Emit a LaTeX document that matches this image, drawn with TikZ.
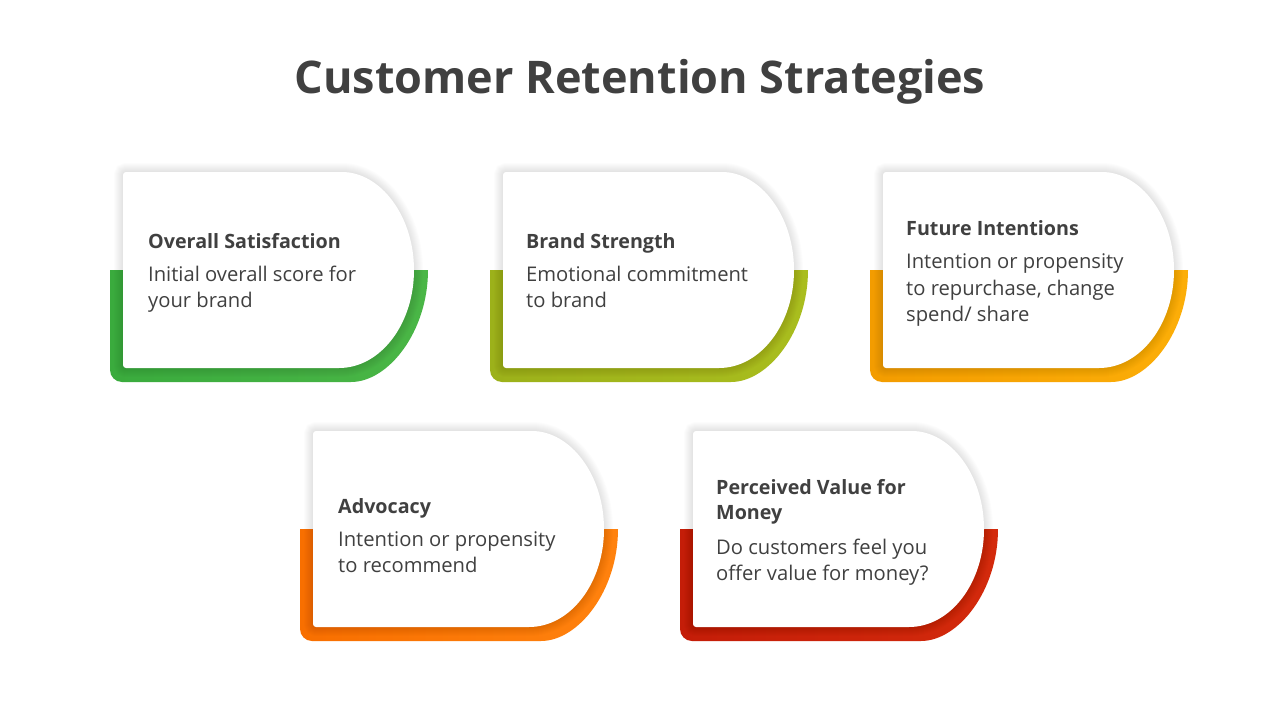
\documentclass[tikz,border=0pt]{standalone}
\usepackage{fontspec}
\setmainfont{Open Sans}
\definecolor{txt}{HTML}{404040}
\definecolor{gL}{HTML}{3AAB3D}\definecolor{gR}{HTML}{4AB646}
\definecolor{oL}{HTML}{9CB11A}\definecolor{oR}{HTML}{A9BD1E}
\definecolor{aL}{HTML}{F39C00}\definecolor{aR}{HTML}{FCAE08}
\definecolor{rL}{HTML}{F86F00}\definecolor{rR}{HTML}{FF820E}
\definecolor{dL}{HTML}{C41D08}\definecolor{dR}{HTML}{D32A0C}
\newcommand\whitepath{(0,98) [rounded corners=3] -- (0,0) -- (216,0) [sharp corners] .. controls (257.4,0) and (291,43.9) .. (291,98) .. controls (291,152.1) and (257.4,196) .. (216,196) [rounded corners=3] -- (0,196) -- cycle}
\newcommand\crd[3]{%
\begin{scope}[shift={(#1,#2)}]
 \shade[left color=#3L, right color=#3R] (-13,98) [rounded corners=12] -- (-13,210) -- (216,210) [sharp corners] .. controls (265.2,210) and (305,159.9) .. (305,98) -- cycle;
 \foreach \w in {2,4,...,18} \draw[black, opacity=0.012, line width=\w pt] \whitepath;
 \fill[white] \whitepath;
\end{scope}}
\tikzset{
 ttl/.style={font=\fontsize{45}{50}\selectfont\bfseries, text=txt, inner sep=0},
 hd/.style={font=\fontsize{19.7}{24}\selectfont\bfseries, text=txt, inner sep=0, anchor=base west},
 bd/.style={font=\fontsize{20.2}{24}\selectfont, text=txt, inner sep=0, anchor=base west}
}
\begin{document}
\begin{tikzpicture}[x=1pt,y=-1pt]
\useasboundingbox (0,0) rectangle (1280,720);
\fill[white] (0,0) rectangle (1280,720);
\node[ttl, anchor=base] (title) at (640,93) {Customer Retention Strategies};
\crd{123}{172}{g}
\crd{503}{172}{o}
\crd{883}{172}{a}
\crd{313}{431}{r}
\crd{693}{431}{d}
% card 1
\node[hd] (h1) at (148,248) {Overall Satisfaction};
\node[bd] (b1a) at (148,281) {Initial overall score for};
\node[bd] (b1b) at (148,307) {your brand};
% card 2
\node[hd] (h2) at (526,248) {Brand Strength};
\node[bd] (b2a) at (526,281) {Emotional commitment};
\node[bd] (b2b) at (526,307) {to brand};
% card 3
\node[hd] (h3) at (906,235) {Future Intentions};
\node[bd] (b3a) at (906,268) {Intention or propensity};
\node[bd] (b3b) at (906,295) {to repurchase, change};
\node[bd] (b3c) at (906,321) {spend/ share};
% card 4
\node[hd] (h4) at (338,513) {Advocacy};
\node[bd] (b4a) at (338,546) {Intention or propensity};
\node[bd] (b4b) at (338,572) {to recommend};
% card 5
\node[hd] (h5a) at (716,494) {Perceived Value for};
\node[hd] (h5b) at (716,519) {Money};
\node[bd] (b5a) at (716,554) {Do customers feel you};
\node[bd] (b5b) at (716,580) {offer value for money?};
\end{tikzpicture}
\end{document}
